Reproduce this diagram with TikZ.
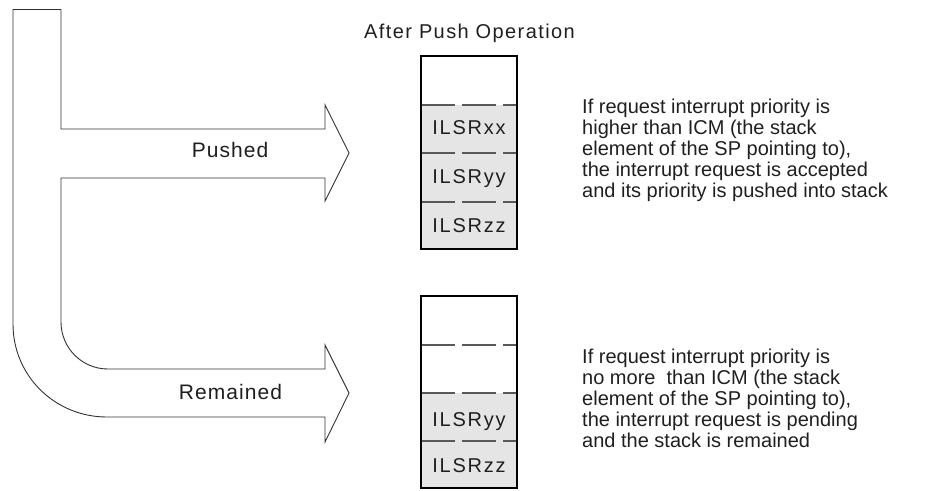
\documentclass[tikz,border=0pt]{standalone}
\usepackage{fontspec}
\setmainfont{Liberation Sans}
\newfontfamily\lsfont[LetterSpace=7]{Liberation Sans}
\newfontfamily\labfont[LetterSpace=5]{Liberation Sans}
\newfontfamily\cellfont[LetterSpace=9]{Liberation Sans}
\begin{document}
\begin{tikzpicture}[x=1pt,y=-1pt,
  txt/.style={text=black!88,inner sep=0pt},
  para/.style={txt,anchor=north west,align=left,font=\fontsize{20}{21}\selectfont},
  arrlabel/.style={txt,anchor=base,font=\labfont\fontsize{21}{21}\selectfont},
  celllabel/.style={txt,anchor=base,font=\cellfont\fontsize{20}{20}\selectfont},
  shaft/.style={draw=black!80,line width=0.9pt,fill=white,line join=miter},
  cellfill/.style={fill=black!10},
  divider/.style={draw=black!65,line width=1.2pt,dash pattern=on 34pt off 7pt},
  stackframe/.style={draw=black,line width=1.8pt}
]
\useasboundingbox (0,0) rectangle (949,490);

% big branching arrow
\draw[shaft] (13,9.5) -- (61,9.5) -- (61,129) -- (325,129) -- (325,105) -- (349,153)
  -- (325,201) -- (325,178) -- (61,178) -- (61,322)
  .. controls (61,348) and (82,369) .. (108,369)
  -- (325,369) -- (325,345) -- (349,393) -- (325,442) -- (325,417) -- (107,417)
  .. controls (55,417) and (13,376) .. (13,324) -- cycle;

\node[arrlabel] (pushed) at (230,157.7) {Pushed};
\node[arrlabel] (remained) at (230.5,399.3) {Remained};

% title
\node[txt,anchor=base,font=\lsfont\fontsize{20}{20}\selectfont] (title) at (469.5,38) {After Push Operation};

% stack 1
\fill[cellfill] (421,105) rectangle (517,249);
\draw[divider] (421,105) -- (517,105);
\draw[divider] (421,153) -- (517,153);
\draw[divider] (421,202) -- (517,202);
\draw[stackframe] (421,56) rectangle (517,249);
\node[celllabel] (xx1) at (469,134.5) {ILSRxx};
\node[celllabel] (yy1) at (469,183.5) {ILSRyy};
\node[celllabel] (zz1) at (469,232) {ILSRzz};

% stack 2
\fill[cellfill] (421,393) rectangle (517,488);
\draw[divider] (421,345) -- (517,345);
\draw[divider] (421,393) -- (517,393);
\draw[divider] (421,441) -- (517,441);
\draw[stackframe] (421,296) rectangle (517,488);
\node[celllabel] (yy2) at (469,426) {ILSRyy};
\node[celllabel] (zz2) at (469,472.5) {ILSRzz};

% descriptions
\node[para] (desc1) at (582,98.4) {If request interrupt priority is\\
higher than ICM (the stack\\
element of the SP pointing to),\\
the interrupt request is accepted\\
and its priority is pushed into stack};
\node[para] (desc2) at (582,348.7) {If request interrupt priority is\\
no more\ \ than ICM (the stack\\
element of the SP pointing to),\\
the interrupt request is pending\\
and the stack is remained};
\end{tikzpicture}
\end{document}
